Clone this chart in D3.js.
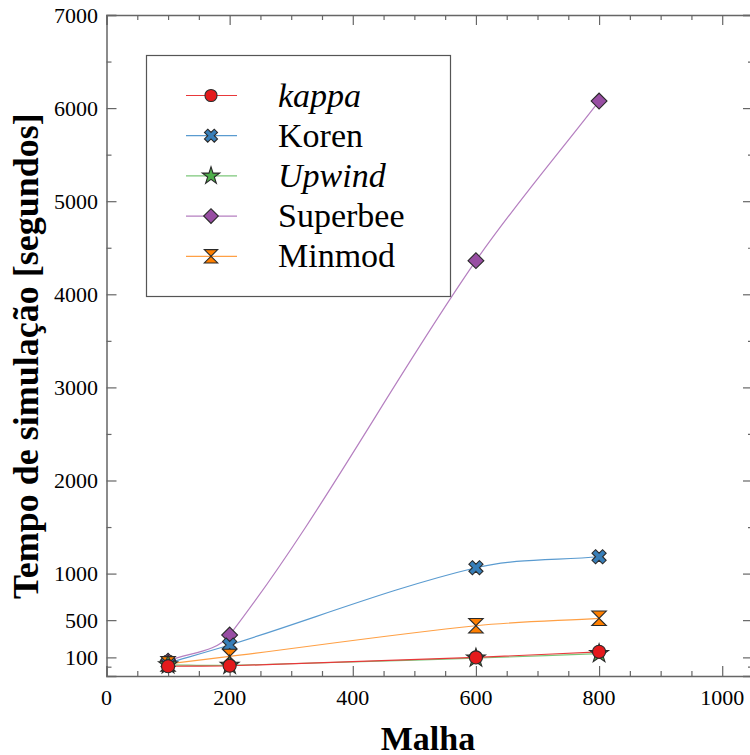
<!DOCTYPE html>
<html>
<head>
<meta charset="utf-8">
<script src="https://cdn.jsdelivr.net/npm/d3@7"></script>
<style>
  html, body { margin: 0; padding: 0; background: #fff; }
  svg { display: block; }
  text { font-family: "Liberation Serif", "Times New Roman", Tinos, Times, serif; fill: #000; }
</style>
</head>
<body>
<svg id="chart" width="750" height="755"></svg>
<script>
// Mesh sizes (x) and simulation time in seconds for each scheme
const malha = [100, 200, 600, 800];
const kappa = [5, 10, 100, 160];
const koren = [40, 233, 1063, 1181];
const upwind = [20, 15, 92, 140];
const superbee = [60, 340, 4361, 6076];
const minmod = [30, 110, 440, 520];

const seriesNames = ["kappa", "Koren", "Upwind", "Superbee", "Minmod"];
const italicNames = ["kappa", "Upwind"];

const yTickValues = [100, 500, 1000, 2000, 3000, 4000, 5000, 6000, 7000];
const yMinorValues = [0, 1500, 2500, 3500, 4500, 5500, 6500];
const xTickValues = [0, 200, 400, 600, 800, 1000];

const titleText = "Comparação do tempo de simulação para a concentração em função do número de malha";

const svg = d3.select("#chart");

const x = d3.scaleLinear().domain([0, 1050]).range([106.5, 753]);
const y = d3.scaleLinear().domain([-100, 7000]).range([676, 15]);

const axisColor = "#666";

// Chart title, running off the top edge
svg.append("text")
  .attr("x", 430).attr("y", -4)
  .attr("text-anchor", "middle")
  .style("font-size", "18px")
  .text(titleText);

// Axes on all four sides, ticks pointing inward
const xMinor = d3.range(0, 1051, 50).filter(v => v % 200 !== 0);
function frameAxis(g, axis) {
  g.call(axis);
  g.select(".domain").attr("stroke", axisColor).attr("stroke-width", 1.5);
  g.selectAll(".tick line").attr("stroke", axisColor).attr("stroke-width", 1.2);
}
function addAxis(translate, major, minor) {
  svg.append("g").attr("transform", translate).call(g => frameAxis(g, major));
  svg.append("g").attr("transform", translate).call(g => frameAxis(g, minor))
    .select(".domain").remove();
}
addAxis(`translate(0,${y.range()[0]})`,
  d3.axisTop(x).tickValues(xTickValues).tickSize(10).tickFormat(""),
  d3.axisTop(x).tickValues(xMinor).tickSize(5).tickFormat(""));
addAxis(`translate(0,${y.range()[1]})`,
  d3.axisBottom(x).tickValues(xTickValues).tickSize(10).tickFormat(""),
  d3.axisBottom(x).tickValues(xMinor).tickSize(5).tickFormat(""));
addAxis(`translate(${x.range()[0]},0)`,
  d3.axisRight(y).tickValues(yTickValues).tickSize(10).tickFormat(""),
  d3.axisRight(y).tickValues(yMinorValues).tickSize(5).tickFormat(""));
addAxis(`translate(${x.range()[1]},0)`,
  d3.axisLeft(y).tickValues(yTickValues).tickSize(10).tickFormat(""),
  d3.axisLeft(y).tickValues(yMinorValues).tickSize(5).tickFormat(""));

// Tick labels
svg.append("g").selectAll("text").data(xTickValues).join("text")
  .attr("x", d => x(d)).attr("y", 705)
  .attr("text-anchor", "middle")
  .style("font-size", "22px")
  .text(d => d);
svg.append("g").selectAll("text").data(yTickValues).join("text")
  .attr("x", 98).attr("y", d => y(d) + 7.5)
  .attr("text-anchor", "end")
  .style("font-size", "22px")
  .text(d => d);

// Axis titles
svg.append("text")
  .attr("x", 428).attr("y", 750)
  .attr("text-anchor", "middle")
  .style("font-size", "34px").style("font-weight", "bold")
  .text("Malha");
svg.append("text")
  .attr("transform", "translate(38,356) rotate(-90)")
  .attr("text-anchor", "middle")
  .style("font-size", "36px").style("font-weight", "bold")
  .text("Tempo de simulação [segundos]");

// Smooth curve through the points: tangent at each inner point follows
// the chord of its neighbours, control arms scale with the segment length.
function SmoothCurve(context) { this._context = context; }
SmoothCurve.prototype = {
  areaStart() {}, areaEnd() {},
  lineStart() { this._pts = []; },
  point(px, py) { this._pts.push([+px, +py]); },
  lineEnd() {
    const p = this._pts, n = p.length, ctx = this._context;
    if (!n) return;
    const norm = (dx, dy) => { const l = Math.hypot(dx, dy) || 1; return [dx / l, dy / l]; };
    const u = p.map((pt, i) => {
      if (n === 1) return [1, 0];
      if (i === 0) return norm(p[1][0] - pt[0], p[1][1] - pt[1]);
      if (i === n - 1) return norm(pt[0] - p[i - 1][0], pt[1] - p[i - 1][1]);
      return norm(p[i + 1][0] - p[i - 1][0], p[i + 1][1] - p[i - 1][1]);
    });
    ctx.moveTo(p[0][0], p[0][1]);
    for (let i = 0; i < n - 1; i++) {
      const a = p[i], b = p[i + 1];
      const L = Math.hypot(b[0] - a[0], b[1] - a[1]) / 3;
      ctx.bezierCurveTo(a[0] + u[i][0] * L, a[1] + u[i][1] * L,
                        b[0] - u[i + 1][0] * L, b[1] - u[i + 1][1] * L,
                        b[0], b[1]);
    }
  }
};
const curveSmooth = context => new SmoothCurve(context);

// Marker shapes
const hourglass = {
  draw(ctx, size) {
    const r = Math.sqrt(size) / 2;
    ctx.moveTo(-r, -r); ctx.lineTo(r, -r); ctx.lineTo(-r, r); ctx.lineTo(r, r); ctx.closePath();
  }
};

const styles = {
  kappa:    { values: kappa,    color: "#e41a1c", line: "#e8383a", sym: d3.symbolCircle, size: 135, rot: 0 },
  Koren:    { values: koren,    color: "#377eb8", line: "#5a9bd0", sym: d3.symbolCross,  size: 125, rot: 45 },
  Upwind:   { values: upwind,   color: "#4daf4a", line: "#7cc77a", sym: d3.symbolStar,   size: 110, rot: 0 },
  Superbee: { values: superbee, color: "#984ea3", line: "#b57fc0", sym: d3.symbolSquare, size: 125, rot: 45 },
  Minmod:   { values: minmod,   color: "#ff7f00", line: "#ffa045", sym: hourglass,       size: 210, rot: 0 }
};

// Draw order: later series sit on top
const drawOrder = ["Superbee", "Koren", "Minmod", "Upwind", "kappa"];

const lineGen = d3.line().x(d => x(d[0])).y(d => y(d[1])).curve(curveSmooth);

const plot = svg.append("g");
drawOrder.forEach(name => {
  const s = styles[name];
  const pts = malha.map((m, i) => [m, s.values[i]]);
  plot.append("path")
    .attr("d", lineGen(pts))
    .attr("fill", "none")
    .attr("stroke", s.line)
    .attr("stroke-width", 1.2);
});
drawOrder.forEach(name => {
  const s = styles[name];
  const pts = malha.map((m, i) => [m, s.values[i]]);
  plot.selectAll(null).data(pts).join("path")
    .attr("d", d3.symbol(s.sym, s.size)())
    .attr("transform", d => `translate(${x(d[0])},${y(d[1])}) rotate(${s.rot})`)
    .attr("fill", s.color)
    .attr("stroke", "#2a2a2a")
    .attr("stroke-width", 1.1);
});

// Legend
const legend = svg.append("g");
legend.append("rect")
  .attr("x", 146.5).attr("y", 55.5).attr("width", 304).attr("height", 241)
  .attr("fill", "#fff").attr("stroke", "#555").attr("stroke-width", 1.2);
seriesNames.forEach((name, i) => {
  const s = styles[name];
  const cy = 95.5 + i * 40.2;
  legend.append("line")
    .attr("x1", 186).attr("x2", 237).attr("y1", cy).attr("y2", cy)
    .attr("stroke", s.line).attr("stroke-width", 1.2);
  legend.append("path")
    .attr("d", d3.symbol(s.sym, s.size * 0.85)())
    .attr("transform", `translate(211,${cy}) rotate(${s.rot})`)
    .attr("fill", s.color).attr("stroke", "#2a2a2a").attr("stroke-width", 1.1);
  legend.append("text")
    .attr("x", 278).attr("y", cy + 11)
    .style("font-size", "34px")
    .style("font-style", italicNames.includes(name) ? "italic" : "normal")
    .text(name);
});
</script>
</body>
</html>
